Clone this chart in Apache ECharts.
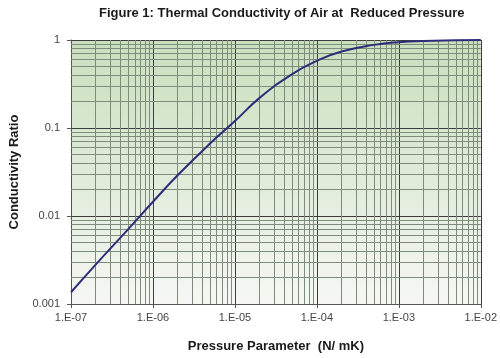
<!DOCTYPE html>
<html><head><meta charset="utf-8">
<script src="https://cdn.jsdelivr.net/npm/echarts@6/dist/echarts.min.js"></script>
<style>html,body{margin:0;padding:0;background:#fff}#c{width:500px;height:358px}</style>
</head><body><div id="c"></div>
<script>
var titleText = 'Figure 1: Thermal Conductivity of Air at  Reduced Pressure';
var xName = 'Pressure Parameter  (N/ mK)';
var yName = 'Conductivity Ratio';
var pressure = [1e-7, 2e-7, 5e-7, 1e-6, 2e-6, 5e-6, 1e-5, 2e-5, 5e-5, 1e-4, 2e-4, 5e-4, 1e-3, 2e-3, 5e-3, 1e-2];
var ratio = [0.00136, 0.0028, 0.0071, 0.0145, 0.029, 0.067, 0.12, 0.22, 0.41, 0.58, 0.74, 0.88, 0.945, 0.975, 0.992, 1.0];
var xMinor = [2e-7,3e-7,4e-7,5e-7,6e-7,7e-7,8e-7,9e-7,2e-6,3e-6,4e-6,5e-6,6e-6,7e-6,8e-6,9e-6,2e-5,3e-5,4e-5,5e-5,6e-5,7e-5,8e-5,9e-5,2e-4,3e-4,4e-4,5e-4,6e-4,7e-4,8e-4,9e-4,2e-3,3e-3,4e-3,5e-3,6e-3,7e-3,8e-3,9e-3];
var yMinor = [0.002,0.003,0.004,0.005,0.006,0.007,0.008,0.009,0.02,0.03,0.04,0.05,0.06,0.07,0.08,0.09,0.2,0.3,0.4,0.5,0.6,0.7,0.8,0.9];
var xMin = 1e-7, xMax = 1e-2, yMin = 0.001, yMax = 1;

var chart = echarts.init(document.getElementById('c'), null, {renderer: 'canvas'});
var minorLines = xMinor.map(function (v) { return [{coord: [v, yMin]}, {coord: [v, yMax]}]; })
  .concat(yMinor.map(function (v) { return [{coord: [xMin, v]}, {coord: [xMax, v]}]; }));
var fontFam = '"Liberation Sans", Arial, sans-serif';
chart.setOption({
  animation: false,
  title: {
    text: titleText, left: 94, top: 2,
    textStyle: {fontSize: 13, fontWeight: 'bold', color: '#1a1a1a', fontFamily: fontFam}
  },
  grid: {
    left: 65, right: 15, top: 40, bottom: 49, show: true, borderWidth: 0,
    backgroundColor: new echarts.graphic.LinearGradient(0, 0, 0, 1, [
      {offset: 0, color: '#c9dfbd'}, {offset: 1, color: '#f6f7f4'}
    ])
  },
  xAxis: {
    type: 'log', logBase: 10, min: xMin, max: xMax,
    name: xName, nameLocation: 'middle', nameGap: 36,
    nameTextStyle: {fontSize: 13, fontWeight: 'bold', color: '#1a1a1a', fontFamily: fontFam},
    axisLine: {lineStyle: {color: '#555', width: 1}},
    axisTick: {show: true, length: 4, lineStyle: {color: '#555'}},
    axisLabel: {
      fontSize: 11, color: '#444', fontFamily: fontFam, margin: 8,
      formatter: function (v) {
        var e = Math.round(Math.log10(v));
        var s = Math.abs(e); s = (s < 10 ? '0' : '') + s;
        return '1.E' + (e < 0 ? '-' : '+') + s;
      }
    },
    splitLine: {show: true, lineStyle: {color: '#3d3d3d', width: 1}}
  },
  yAxis: {
    type: 'log', logBase: 10, min: yMin, max: yMax,
    name: yName, nameLocation: 'middle', nameGap: 50,
    nameTextStyle: {fontSize: 13, fontWeight: 'bold', color: '#1a1a1a', fontFamily: fontFam},
    axisLine: {show: true, lineStyle: {color: '#555', width: 1}},
    axisTick: {show: true, length: 4, lineStyle: {color: '#555'}},
    axisLabel: {
      fontSize: 11, color: '#444', fontFamily: fontFam, margin: 11,
      formatter: function (v) { return String(+v.toPrecision(3)); }
    },
    splitLine: {show: true, lineStyle: {color: '#3d3d3d', width: 1}}
  },
  series: [
    {
      type: 'line', data: [], silent: true, z: 1,
      markLine: {
        silent: true, symbol: 'none', animation: false,
        label: {show: false},
        lineStyle: {color: '#7d8c7b', type: 'solid', width: 1},
        emphasis: {disabled: true},
        data: minorLines
      }
    },
    {
      type: 'line', z: 5,
      data: pressure.map(function (p, i) { return [p, ratio[i]]; }),
      smooth: true, showSymbol: false,
      lineStyle: {color: '#2e2d7a', width: 2}
    }
  ]
});
</script></body></html>
